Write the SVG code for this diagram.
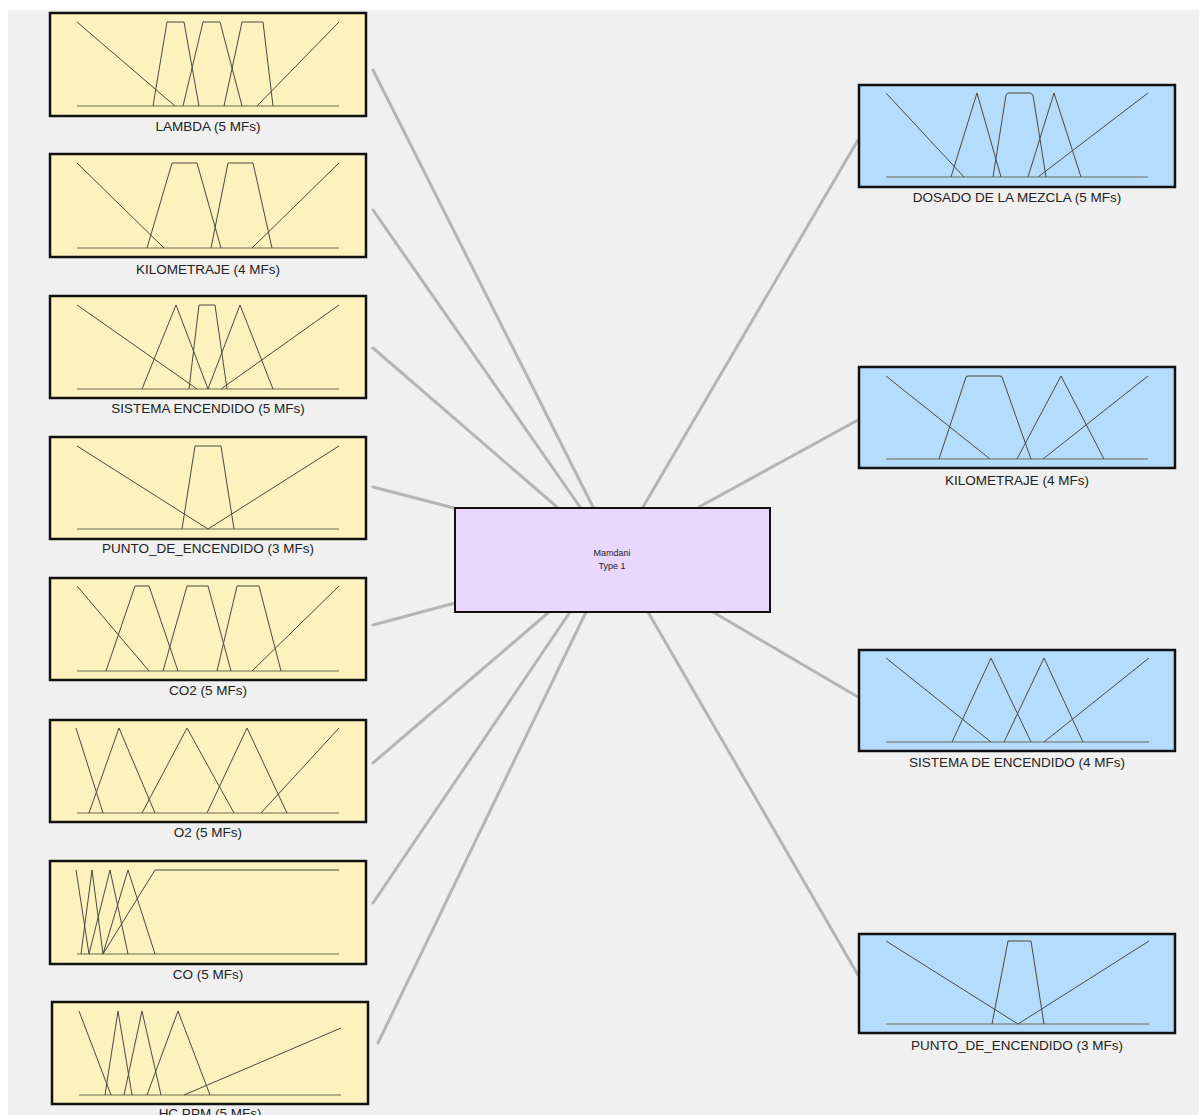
<svg xmlns="http://www.w3.org/2000/svg" width="1199" height="1115" viewBox="0 0 1199 1115">
  <style>
    .bg { fill: #f0f0f0; }
    .in rect { fill: #fdf1bd; stroke: #111; stroke-width: 2.5; }
    .out rect { fill: #b4dcfd; stroke: #111; stroke-width: 2.5; }
    .sys rect { fill: #e9d7fd; stroke: #111; stroke-width: 2; }
    .mf { fill: none; stroke: #4a4a40; stroke-width: 1; stroke-linejoin: round; }
    .base { fill: none; stroke: #6b6b55; stroke-width: 1.2; }
    .lbl { font-family: "Liberation Sans", Arial, sans-serif; font-size: 13.5px; fill: #222; text-anchor: middle; }
    .sm { font-family: "Liberation Sans", Arial, sans-serif; font-size: 9px; fill: #222; text-anchor: middle; }
    #links line { stroke: #b5b5b5; stroke-width: 3; stroke-linecap: round; }
  </style>

  <rect x="0" y="0" width="1199" height="1115" fill="#ffffff"/>
  <rect class="bg" x="8" y="10" width="1191" height="1105"/>

  <!-- connections between variables and the inference system -->
  <g id="links">
    <line x1="373" y1="70" x2="593" y2="507"/>
    <line x1="373" y1="210" x2="580" y2="507"/>
    <line x1="373" y1="348" x2="557" y2="507"/>
    <line x1="373" y1="487" x2="454" y2="508"/>
    <line x1="373" y1="625" x2="455" y2="603"/>
    <line x1="373" y1="763" x2="549" y2="612"/>
    <line x1="373" y1="903" x2="570" y2="612"/>
    <line x1="378" y1="1043" x2="586" y2="612"/>
    <line x1="643" y1="507" x2="858" y2="140"/>
    <line x1="699" y1="507" x2="858" y2="420"/>
    <line x1="713" y1="612" x2="858" y2="697"/>
    <line x1="648" y1="612" x2="858" y2="975"/>
  </g>

  <!-- inputs -->
  <g id="in-lambda" class="in">
    <rect x="50" y="13" width="316" height="103"/>
    <line class="base" x1="77" y1="106" x2="339" y2="106"/>
    <polyline class="mf" points="77,22 175,106"/>
    <polyline class="mf" points="153,106 167,22 184,22 199,106"/>
    <polyline class="mf" points="183,106 203,22 220,22 242,106"/>
    <polyline class="mf" points="224,106 242,22 263,22 273,106"/>
    <polyline class="mf" points="257,106 339,22"/>
    <text class="lbl" x="208" y="131">LAMBDA (5 MFs)</text>
  </g>

  <g id="in-kilometraje" class="in">
    <rect x="50" y="154" width="316" height="103"/>
    <line class="base" x1="77" y1="248" x2="339" y2="248"/>
    <polyline class="mf" points="77,163 164,248"/>
    <polyline class="mf" points="147,248 172,163 197,163 221,248"/>
    <polyline class="mf" points="211,248 228,163 253,163 272,248"/>
    <polyline class="mf" points="252,248 339,163"/>
    <text class="lbl" x="208" y="274">KILOMETRAJE (4 MFs)</text>
  </g>

  <g id="in-sistema-encendido" class="in">
    <rect x="50" y="296" width="316" height="102"/>
    <line class="base" x1="77" y1="389" x2="339" y2="389"/>
    <polyline class="mf" points="77,305 197,389"/>
    <polyline class="mf" points="142,389 176,305 208,389"/>
    <polyline class="mf" points="189,389 199,305 215,305 227,389"/>
    <polyline class="mf" points="208,389 240,305 273,389"/>
    <polyline class="mf" points="221,389 339,305"/>
    <text class="lbl" x="208" y="413">SISTEMA ENCENDIDO (5 MFs)</text>
  </g>

  <g id="in-punto-de-encendido" class="in">
    <rect x="50" y="437" width="316" height="102"/>
    <line class="base" x1="77" y1="529" x2="339" y2="529"/>
    <polyline class="mf" points="77,446 208,529"/>
    <polyline class="mf" points="182,529 195,446 221,446 234,529"/>
    <polyline class="mf" points="208,529 339,446"/>
    <text class="lbl" x="208" y="553">PUNTO_DE_ENCENDIDO (3 MFs)</text>
  </g>

  <g id="in-co2" class="in">
    <rect x="50" y="578" width="316" height="102"/>
    <line class="base" x1="77" y1="671" x2="339" y2="671"/>
    <polyline class="mf" points="77,586 149,671"/>
    <polyline class="mf" points="106,671 135,586 149,586 178,671"/>
    <polyline class="mf" points="163,671 187,586 208,586 231,671"/>
    <polyline class="mf" points="217,671 237,586 259,586 281,671"/>
    <polyline class="mf" points="252,671 339,586"/>
    <text class="lbl" x="208" y="695">CO2 (5 MFs)</text>
  </g>

  <g id="in-o2" class="in">
    <rect x="50" y="720" width="316" height="102"/>
    <line class="base" x1="77" y1="813" x2="339" y2="813"/>
    <polyline class="mf" points="76,728 103,813"/>
    <polyline class="mf" points="89,813 119,728 155,813"/>
    <polyline class="mf" points="142,813 187,728 234,813"/>
    <polyline class="mf" points="207,813 247,728 287,813"/>
    <polyline class="mf" points="261,813 339,728"/>
    <text class="lbl" x="208" y="837">O2 (5 MFs)</text>
  </g>

  <g id="in-co" class="in">
    <rect x="50" y="861" width="316" height="103"/>
    <line class="base" x1="77" y1="954" x2="339" y2="954"/>
    <polyline class="mf" points="76,870 89,954"/>
    <polyline class="mf" points="81,954 92,870 103,954"/>
    <polyline class="mf" points="89,954 110,870 128,954"/>
    <polyline class="mf" points="103,954 128,870 155,954"/>
    <polyline class="mf" points="103,954 155,870 339,870"/>
    <text class="lbl" x="208" y="979">CO (5 MFs)</text>
  </g>

  <g id="in-hc-ppm" class="in">
    <rect x="52" y="1002" width="316" height="102"/>
    <line class="base" x1="79" y1="1095" x2="341" y2="1095"/>
    <polyline class="mf" points="79,1011 111,1095"/>
    <polyline class="mf" points="105,1095 118,1011 132,1095"/>
    <polyline class="mf" points="124,1095 142,1011 161,1095"/>
    <polyline class="mf" points="147,1095 178,1011 210,1095"/>
    <polyline class="mf" points="184,1095 341,1028"/>
    <text class="lbl" x="210" y="1118">HC PPM (5 MFs)</text>
  </g>

  <!-- inference system -->
  <g id="mamdani" class="sys">
    <rect x="455" y="508" width="315" height="104"/>
    <text class="sm" x="612" y="556">Mamdani</text>
    <text class="sm" x="612" y="569">Type 1</text>
  </g>

  <!-- outputs -->
  <g id="out-dosado" class="out">
    <rect x="859" y="85" width="316" height="102"/>
    <line class="base" x1="886" y1="177" x2="1148" y2="177"/>
    <polyline class="mf" points="886,93 964,177"/>
    <polyline class="mf" points="951,177 977,93 1001,177"/>
    <polyline class="mf" points="993,177 1006,95 1008,93 1030,93 1033,95 1046,177"/>
    <polyline class="mf" points="1028,177 1054,93 1081,177"/>
    <polyline class="mf" points="1038,177 1148,93"/>
    <text class="lbl" x="1017" y="202">DOSADO DE LA MEZCLA (5 MFs)</text>
  </g>

  <g id="out-kilometraje" class="out">
    <rect x="859" y="367" width="316" height="101"/>
    <line class="base" x1="886" y1="459" x2="1148" y2="459"/>
    <polyline class="mf" points="886,376 990,459"/>
    <polyline class="mf" points="939,459 966,377 968,376 1000,376 1002,377 1031,459"/>
    <polyline class="mf" points="1017,459 1061,376 1104,459"/>
    <polyline class="mf" points="1043,459 1148,376"/>
    <text class="lbl" x="1017" y="485">KILOMETRAJE (4 MFs)</text>
  </g>

  <g id="out-sistema-de-encendido" class="out">
    <rect x="859" y="650" width="316" height="101"/>
    <line class="base" x1="886" y1="742" x2="1149" y2="742"/>
    <polyline class="mf" points="886,658 991,742"/>
    <polyline class="mf" points="952,742 991,658 1031,742"/>
    <polyline class="mf" points="1004,742 1044,658 1083,742"/>
    <polyline class="mf" points="1044,742 1149,658"/>
    <text class="lbl" x="1017" y="767">SISTEMA DE ENCENDIDO (4 MFs)</text>
  </g>

  <g id="out-punto-de-encendido" class="out">
    <rect x="859" y="934" width="316" height="99"/>
    <line class="base" x1="886" y1="1024" x2="1149" y2="1024"/>
    <polyline class="mf" points="886,941 1018,1024"/>
    <polyline class="mf" points="992,1024 1008,941 1031,941 1044,1024"/>
    <polyline class="mf" points="1018,1024 1149,941"/>
    <text class="lbl" x="1017" y="1050">PUNTO_DE_ENCENDIDO (3 MFs)</text>
  </g>
</svg>
